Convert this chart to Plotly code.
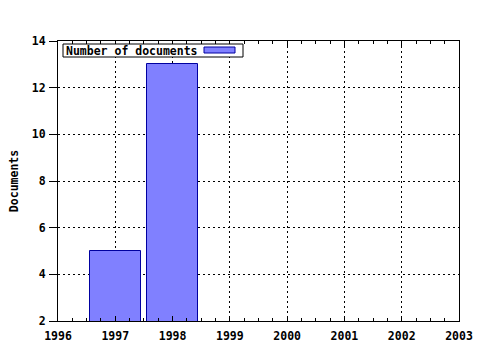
import plotly.graph_objects as go

years = [1997, 1998]
documents = [5, 13]
series_name = "Number of documents"
x_ticks = [1996, 1997, 1998, 1999, 2000, 2001, 2002, 2003]
y_ticks = [2, 4, 6, 8, 10, 12, 14]

FONT = dict(family="DejaVu Sans Mono", size=11.5, color="black", weight="bold")
BAR_FILL = "#8080ff"
BAR_LINE = "#0000a0"

W, H = 480, 350
ML, MR, MT, MB = 58, 21, 41, 29
PW, PH = W - ML - MR, H - MT - MB


def px(xp):
    return (xp - ML) / PW


def py(yp):
    return (H - MB - yp) / PH


fig = go.Figure()
fig.add_trace(go.Bar(
    x=years, y=documents, width=0.9, name=series_name,
    marker=dict(color=BAR_FILL, line=dict(color=BAR_LINE, width=1)),
    showlegend=False,
))

# legend drawn as box + text + swatch
shapes = [
    dict(type="rect", xref="paper", yref="paper", x0=px(63), x1=px(243), y0=py(57), y1=py(44),
         line=dict(color="black", width=1), fillcolor="white", layer="above"),
    dict(type="rect", xref="paper", yref="paper", x0=px(204), x1=px(235), y0=py(53), y1=py(47),
         line=dict(color=BAR_LINE, width=1), fillcolor=BAR_FILL, layer="above"),
]
annotations = [
    dict(text=series_name, xref="paper", yref="paper", x=px(64), y=py(50.5),
         xanchor="left", yanchor="middle", showarrow=False, font=FONT),
]

fig.update_layout(
    width=W, height=H,
    margin=dict(l=ML, r=MR, t=MT, b=MB),
    paper_bgcolor="white", plot_bgcolor="white",
    font=FONT,
    showlegend=False,
    shapes=shapes, annotations=annotations,
    xaxis=dict(
        range=[1996, 2003], tickvals=x_ticks, ticktext=[str(v) for v in x_ticks],
        showline=True, linecolor="black", linewidth=1, mirror="ticks",
        ticks="inside", ticklen=5, tickcolor="black",
        showgrid=True, gridcolor="black", griddash="2px,3px", gridwidth=1,
        minor=dict(dtick=0.25, ticks="inside", ticklen=3, tickcolor="black", showgrid=False),
        zeroline=False, ticklabelstandoff=4, automargin=False,
    ),
    yaxis=dict(
        range=[2, 14], tickvals=y_ticks,
        showline=True, linecolor="black", linewidth=1, mirror=True,
        ticks="outside", ticklen=8, tickcolor="black",
        showgrid=True, gridcolor="black", griddash="2px,3px", gridwidth=1,
        zeroline=False, ticklabelstandoff=1, automargin=False,
        title=dict(text="Documents", font=FONT, standoff=10),
    ),
    bargap=0,
)

fig.write_html("out.html")
